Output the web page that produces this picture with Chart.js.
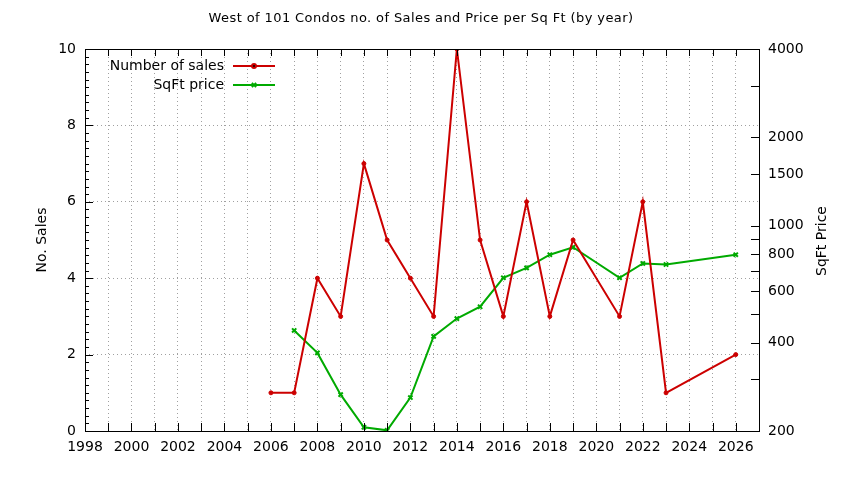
<!DOCTYPE html>
<html>
<head>
<meta charset="utf-8">
<script src="https://cdn.jsdelivr.net/npm/chart.js@4/dist/chart.umd.min.js"></script>
<style>
  html, body { margin: 0; padding: 0; background: #fff; }
  #wrap { width: 844px; height: 480px; }
</style>
</head>
<body>
<div id="wrap"><canvas id="chart" width="844" height="480"></canvas></div>
<script>
// data
const salesYears = [2006, 2007, 2008, 2009, 2010, 2011, 2012, 2013, 2014, 2015, 2016, 2017, 2018, 2019, 2021, 2022, 2023, 2026];
const salesCount = [1, 1, 4, 3, 7, 5, 4, 3, 10, 5, 3, 6, 3, 5, 3, 6, 1, 2];
const priceYears = [2007, 2008, 2009, 2010, 2011, 2012, 2013, 2014, 2015, 2016, 2017, 2018, 2019, 2021, 2022, 2023, 2026];
const priceSqFt = [440, 369, 266, 206, 201, 260, 420, 483, 530, 665, 719, 797, 845, 665, 744, 738, 797];

// right (log) axis tick marks and the ones that get a label
const priceTicks = [200, 300, 400, 500, 600, 700, 800, 900, 1000, 1500, 2000, 3000, 4000];
const priceLabels = [200, 400, 600, 800, 1000, 1500, 2000, 4000];

const FONT = 'DejaVu Sans';
const RED = '#cc0000';
const GREEN = '#00aa00';
const GRID = '#a0a0a0';

// gnuplot style: inward ticks, frame, titles, legend
const gnuplotLook = {
  id: 'gnuplotLook',
  afterDraw(chart) {
    const ctx = chart.ctx;
    const a = chart.chartArea;
    const x = chart.scales.x, y = chart.scales.y, y1 = chart.scales.y1;
    ctx.save();
    ctx.strokeStyle = '#000';
    ctx.lineWidth = 1;
    ctx.beginPath();
    x.ticks.forEach(t => {
      const px = Math.round(x.getPixelForValue(t.value)) + 0.5;
      ctx.moveTo(px, a.bottom); ctx.lineTo(px, a.bottom - 8);
      ctx.moveTo(px, a.top); ctx.lineTo(px, a.top + 7);
    });
    y.ticks.forEach(t => {
      const py = Math.round(y.getPixelForValue(t.value)) + 0.5;
      const major = Math.abs(t.value - Math.round(t.value)) < 1e-6 && Math.round(t.value) % 2 === 0;
      ctx.moveTo(a.left, py); ctx.lineTo(a.left + (major ? 8 : 4), py);
    });
    y1.ticks.forEach(t => {
      const py = Math.round(y1.getPixelForValue(t.value)) + 0.5;
      ctx.moveTo(a.right, py); ctx.lineTo(a.right - 8, py);
    });
    ctx.stroke();
    ctx.strokeRect(Math.round(a.left) + 0.5, Math.round(a.top) + 0.5,
                   Math.round(a.right - a.left), Math.round(a.bottom - a.top));

    // titles
    ctx.fillStyle = '#000';
    ctx.textBaseline = 'middle';
    ctx.textAlign = 'center';
    ctx.font = '13px "' + FONT + '"';
    ctx.letterSpacing = '0.4px';
    ctx.fillText('West of 101 Condos no. of Sales and Price per Sq Ft (by year)', 421, 19);
    ctx.letterSpacing = '0px';
    ctx.font = '14px "' + FONT + '"';
    ctx.save();
    ctx.translate(42, 240);
    ctx.rotate(-Math.PI / 2);
    ctx.fillText('No. Sales', 0, 0);
    ctx.restore();
    ctx.save();
    ctx.translate(822, 241);
    ctx.rotate(-Math.PI / 2);
    ctx.fillText('SqFt Price', 0, 0);
    ctx.restore();

    // legend: text, then line sample with marker
    ctx.textAlign = 'right';
    chart.data.datasets.forEach((ds, i) => {
      const ly = 66 + i * 19;
      ctx.fillStyle = '#000';
      ctx.fillText(ds.label, 224, ly);
      ctx.strokeStyle = ds.borderColor;
      ctx.lineWidth = 2;
      ctx.beginPath();
      ctx.moveTo(233, ly); ctx.lineTo(275, ly);
      ctx.stroke();
      Chart.helpers.drawPoint(ctx, {
        pointStyle: ds.pointStyle, radius: ds.pointRadius, borderWidth: ds.pointBorderWidth
      }, 254, ly);
    });
    ctx.restore();
  }
};

new Chart(document.getElementById('chart').getContext('2d'), {
  type: 'line',
  data: {
    datasets: [
      {
        label: 'Number of sales',
        data: salesYears.map((yr, i) => ({ x: yr, y: salesCount[i] })),
        yAxisID: 'y',
        borderColor: RED,
        backgroundColor: RED,
        borderWidth: 2,
        pointStyle: 'circle',
        pointRadius: 2,
        pointBorderWidth: 1,
        tension: 0
      },
      {
        label: 'SqFt price',
        data: priceYears.map((yr, i) => ({ x: yr, y: priceSqFt[i] })),
        yAxisID: 'y1',
        borderColor: GREEN,
        backgroundColor: GREEN,
        borderWidth: 2,
        pointStyle: 'crossRot',
        pointRadius: 3,
        pointBorderWidth: 2,
        tension: 0
      }
    ]
  },
  options: {
    responsive: false,
    animation: false,
    layout: { padding: { top: 49, left: 0, right: 0, bottom: 0 } },
    plugins: {
      legend: { display: false },
      title: { display: false },
      tooltip: { enabled: false }
    },
    scales: {
      x: {
        type: 'linear',
        min: 1998,
        max: 2027,
        afterFit: s => { s.height = 49; },
        border: { display: false, dash: [1, 3] },
        grid: {
          drawTicks: false,
          color: GRID,
          lineWidth: 1
        },
        ticks: {
          stepSize: 1,
          autoSkip: false,
          maxRotation: 0,
          padding: 8,
          color: '#000',
          font: { family: FONT, size: 14 },
          callback: v => (v % 2 === 0 ? String(v) : '')
        }
      },
      y: {
        position: 'left',
        min: 0,
        max: 10,
        afterFit: s => { s.width = 85; },
        border: { display: false, dash: [1, 3] },
        grid: {
          drawTicks: false,
          color: ctx => {
            const v = ctx.tick.value;
            const even = Math.abs(v - Math.round(v)) < 1e-6 && Math.round(v) % 2 === 0;
            return even && v > 0 && v < 10 ? GRID : 'rgba(0,0,0,0)';
          },
          lineWidth: 1
        },
        ticks: {
          stepSize: 0.2,
          autoSkip: false,
          padding: 9,
          color: '#000',
          font: { family: FONT, size: 14 },
          callback: v => {
            const r = Math.round(v);
            return Math.abs(v - r) < 1e-6 && r % 2 === 0 ? String(r) : '';
          }
        }
      },
      y1: {
        type: 'logarithmic',
        position: 'right',
        min: 200,
        max: 4000,
        afterFit: s => { s.width = 85; },
        afterBuildTicks: s => { s.ticks = priceTicks.map(v => ({ value: v })); },
        border: { display: false },
        grid: { display: false, drawTicks: false },
        ticks: {
          autoSkip: false,
          padding: 9,
          color: '#000',
          font: { family: FONT, size: 14 },
          callback: v => (priceLabels.includes(v) ? String(v) : '')
        }
      }
    }
  },
  plugins: [gnuplotLook]
});
</script>
</body>
</html>
